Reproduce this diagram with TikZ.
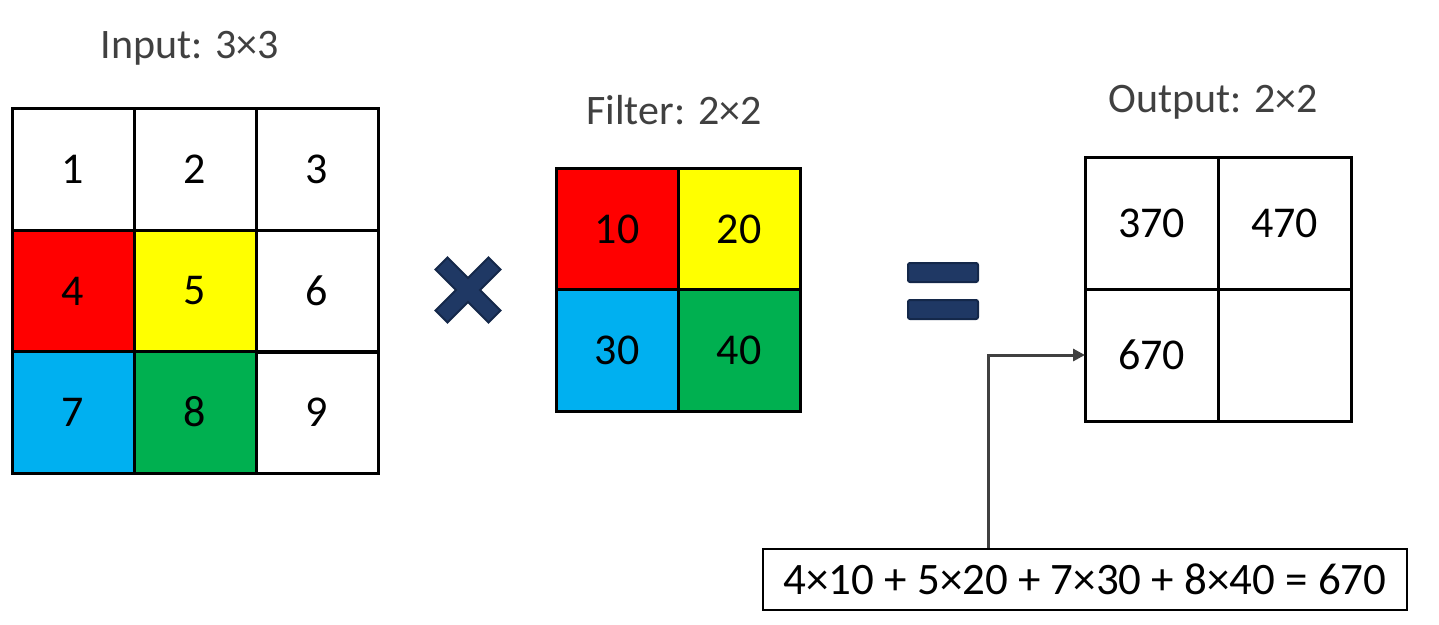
\documentclass[tikz,border=0pt]{standalone}
\usepackage{fontspec}
\setmainfont{Carlito}
\usetikzlibrary{arrows.meta}
\definecolor{navy}{HTML}{1F3864}
\definecolor{navyd}{HTML}{14284A}
\definecolor{lbl}{HTML}{404040}
\definecolor{cred}{HTML}{FF0000}
\definecolor{cyel}{HTML}{FFFF00}
\definecolor{cblu}{HTML}{00B0F0}
\definecolor{cgrn}{HTML}{00B050}
\tikzset{
  cell/.style={draw=black, line width=3pt, minimum width=122pt, minimum height=122pt, inner sep=0pt, outer sep=0pt, font=\fontsize{44}{44}\selectfont},
  ocell/.style={cell, minimum width=133pt, minimum height=132pt},
  title/.style={text=lbl, font=\fontsize{42}{42}\selectfont, inner sep=0pt},
  eqbox/.style={draw=black, line width=2.5pt, minimum width=644pt, minimum height=61pt, inner sep=0pt, font=\fontsize{45}{45}\selectfont},
  conn/.style={draw=lbl, line width=3pt, -{Triangle[length=12pt,width=12pt]}},
  sym/.style={fill=navy, draw=navyd, line width=2pt},
}
\begin{document}
\begin{tikzpicture}[x=1pt,y=-1pt]
\useasboundingbox (0,0) rectangle (1439,624);
% Input
\node[title] (tin) at (190,48) {Input: 3×3};
\node[cell] (i1) at (73,169) {1};
\node[cell] (i2) at (195,169) {2};
\node[cell] (i3) at (317,169) {3};
\node[cell,fill=cred] (i4) at (73,291) {4};
\node[cell,fill=cyel] (i5) at (195,291) {5};
\node[cell] (i6) at (317,291) {6};
\node[cell,fill=cblu] (i7) at (73,412) {7};
\node[cell,fill=cgrn] (i8) at (195,412) {8};
\node[cell] (i9) at (317,412) {9};
% times
\begin{scope}[shift={(468,290)},rotate=45]
\draw[sym] (37.5,8.5)--(37.5,-8.5)--(8.5,-8.5)--(8.5,-37.5)--(-8.5,-37.5)--(-8.5,-8.5)--(-37.5,-8.5)--(-37.5,8.5)--(-8.5,8.5)--(-8.5,37.5)--(8.5,37.5)--(8.5,8.5)--cycle;
\end{scope}
% Filter
\node[title] (tf) at (674,110) {Filter: 2×2};
\node[cell,fill=cred] (f1) at (617,229) {10};
\node[cell,fill=cyel] (f2) at (739,229) {20};
\node[cell,fill=cblu] (f3) at (617,350) {30};
\node[cell,fill=cgrn] (f4) at (739,350) {40};
% equals
\draw[sym,rounded corners=2pt] (908,263) rectangle (978,282);
\draw[sym,rounded corners=2pt] (908,300) rectangle (978,319);
% Output
\node[title] (to) at (1213,102) {Output: 2×2};
\node[ocell] (o1) at (1151.5,223) {370};
\node[ocell] (o2) at (1284.5,223) {470};
\node[ocell] (o3) at (1151.5,355) {670};
\node[ocell] (o4) at (1284.5,355) {};
% equation
\node[eqbox] (eq) at (1085,579.5) {4×10 + 5×20 + 7×30 + 8×40 = 670};
\draw[conn] ([xshift=-97pt]eq.north) |- (o3.west);
\end{tikzpicture}
\end{document}
